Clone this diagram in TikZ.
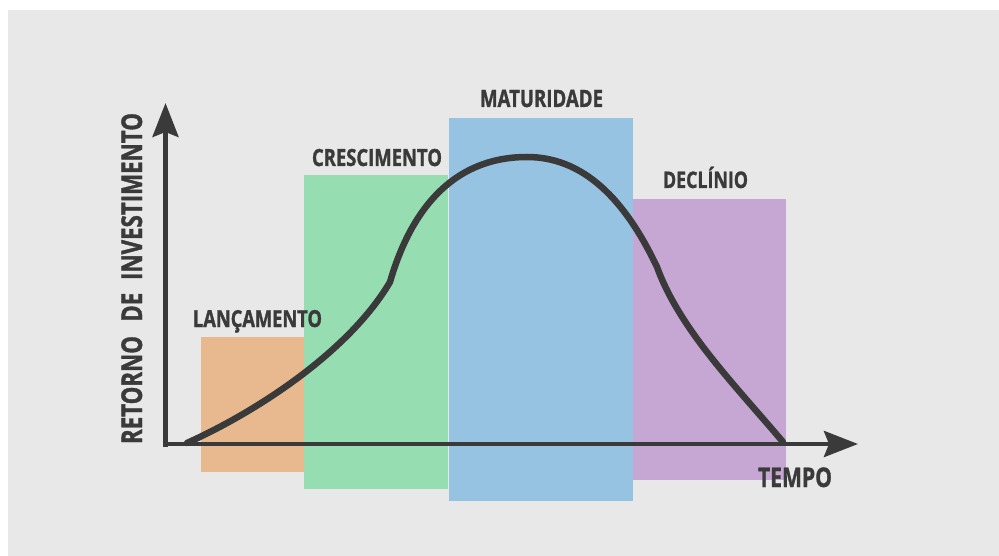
\documentclass[tikz,border=0pt]{standalone}
\usepackage{fontspec}
\setmainfont[FakeStretch=0.78,BoldFeatures={FakeBold=1.2}]{Open Sans}
\usetikzlibrary{arrows.meta}
\definecolor{bg}{HTML}{E8E8E8}
\definecolor{ink}{HTML}{3A3A3A}
\definecolor{orng}{HTML}{E8B98E}
\definecolor{grn}{HTML}{97DDB2}
\definecolor{blu}{HTML}{97C3E3}
\definecolor{purp}{HTML}{C6A6D3}
\begin{document}
\begin{tikzpicture}[x=1pt,y=-1pt,
  lbl/.style={text=ink,font=\bfseries,inner sep=0pt,anchor=base},
  axisline/.style={draw=ink,line width=4.5pt},
  tipstyle/.style={-{Stealth[length=34pt,width=26pt,inset=5pt]}},
  curveline/.style={draw=ink,line width=6.5pt,line cap=round,line join=round}]
\useasboundingbox (0,0) rectangle (999,556);
\fill[white] (0,0) rectangle (999,556);
\fill[bg] (8,10) rectangle (999,556);
% phase blocks
\fill[orng] (201,337) rectangle (304,472);
\fill[grn] (304,175) rectangle (447.5,489);
\fill[blu] (449,118) rectangle (632.5,501);
\fill[purp] (632.5,199) rectangle (785.5,480);
% labels
\node[lbl] (lanc) at (257.5,327) {\resizebox{129pt}{!}{LANÇAMENTO}};
\node[lbl] (cresc) at (377,166) {\resizebox{130pt}{!}{CRESCIMENTO}};
\node[lbl] (mat) at (541.5,107) {\resizebox{123pt}{!}{MATURIDADE}};
\node[lbl] (decl) at (705.5,188) {\resizebox{85pt}{!}{DECLÍNIO}};
\node[lbl] (tempo) at (795,487) {\resizebox{74pt}{!}{TEMPO}};
\node[lbl,rotate=90] (ret) at (142,278.5) {\resizebox{331pt}{!}{RETORNO\hspace{0.5em}DE\hspace{0.45em}INVESTIMENTO}};
% axes
\coordinate (ybot) at (165.5,446.5);
\coordinate (ytip) at (165.5,103);
\coordinate (xleft) at (163.25,444);
\coordinate (xtip) at (858,444);
\draw[axisline,tipstyle] (ybot) -- (ytip);
\draw[axisline,tipstyle] (xleft) -- (xtip);
% life-cycle curve
\coordinate (c0) at (187,443);
\coordinate (c1) at (390,282);
\coordinate (c2) at (527,157);
\coordinate (c3) at (657,267);
\coordinate (c4) at (783,442);
\draw[curveline] (c0) .. controls (260,410) and (350,350) .. (c1)
  .. controls (405,230) and (440,157) .. (c2)
  .. controls (590,157) and (630,210) .. (c3)
  .. controls (680,330) and (735,385) .. (c4);
\end{tikzpicture}
\end{document}
